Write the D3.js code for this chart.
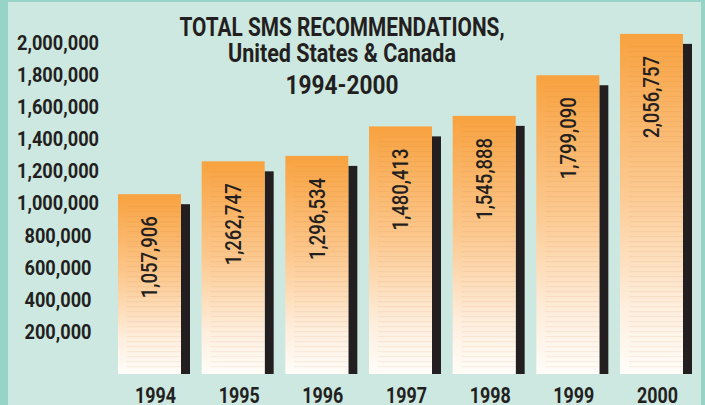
<!DOCTYPE html>
<html>
<head>
<meta charset="utf-8">
<script src="https://cdn.jsdelivr.net/npm/d3@7"></script>
<style>
  html, body { margin: 0; padding: 0; background: #97d3c6; }
  svg { display: block; }
  text { font-family: Roboto, "DejaVu Sans Condensed", sans-serif; fill: #231f20; }
</style>
</head>
<body>
<div id="chart"></div>
<script>
// Chart data
const years = ['1994', '1995', '1996', '1997', '1998', '1999', '2000'];
const recommendations = [1057906, 1262747, 1296534, 1480413, 1545888, 1799090, 2056757];
const tickValues = [200000, 400000, 600000, 800000, 1000000, 1200000, 1400000, 1600000, 1800000, 2000000];
const titleLines = ['TOTAL SMS RECOMMENDATIONS,', 'United States & Canada', '1994-2000'];

const width = 705, height = 405;
const fmt = d3.format(',');

// squeeze a group of texts horizontally so the widest one fits `target` px
function condense(sel, target){
    let widest = d3.max(sel.nodes(), n => n.getComputedTextLength());
    let k = target / widest;
    sel.each(function(){
        let len = this.getComputedTextLength();
        d3.select(this).attr('textLength', len * k).attr('lengthAdjust', 'spacingAndGlyphs');
    });
}

const svg = d3.select('#chart').append('svg')
    .attr('width', width).attr('height', height);

// background panel
svg.append('rect').attr('width', width).attr('height', height).attr('fill', '#97d3c6');
svg.append('rect').attr('x', 8).attr('y', 2).attr('width', 693).attr('height', height)
    .attr('fill', '#cce8e1');

// scales
const x = d3.scaleBand().domain(years).range([118, 683]).paddingInner(0.247).paddingOuter(0);
const y = d3.scaleLinear().domain([0, 2000000]).range([364, 43]);
const base = y(0) + 10;   // bars sit a little below the zero line
const shadowW = 9;

// gradient + scanline pattern for the bars
const defs = svg.append('defs');
const grad = defs.append('linearGradient').attr('id', 'barGrad')
    .attr('x1', 0).attr('y1', 0).attr('x2', 0).attr('y2', 1);
grad.append('stop').attr('offset', '0%').attr('stop-color', '#f8a23f');
grad.append('stop').attr('offset', '45%').attr('stop-color', '#fcc88e');
grad.append('stop').attr('offset', '80%').attr('stop-color', '#feeedd');
grad.append('stop').attr('offset', '100%').attr('stop-color', '#fffdf9');

const pat = defs.append('pattern').attr('id', 'lines')
    .attr('patternUnits', 'userSpaceOnUse').attr('width', 8).attr('height', 5);
pat.append('rect').attr('y', 1).attr('width', 8).attr('height', 1.2)
    .attr('fill', '#b8733a').attr('opacity', 0.09);

const bars = svg.append('g').selectAll('g.bar')
    .data(years.map((d, i) => [d, recommendations[i]]))
    .join('g').classed('bar', true);

// drop shadow
bars.append('rect')
    .attr('x', d => x(d[0]) + x.bandwidth())
    .attr('y', d => y(d[1]) + 10)
    .attr('width', shadowW)
    .attr('height', d => base - y(d[1]) - 10)
    .attr('fill', '#231f20');

bars.append('rect')
    .attr('x', d => x(d[0]))
    .attr('y', d => y(d[1]))
    .attr('width', x.bandwidth())
    .attr('height', d => base - y(d[1]))
    .attr('fill', 'url(#barGrad)');

bars.append('rect')
    .attr('x', d => x(d[0]) + 9)
    .attr('y', d => y(d[1]) + 10)
    .attr('width', x.bandwidth() - 9)
    .attr('height', d => base - y(d[1]) - 14)
    .attr('fill', 'url(#lines)');

// value labels, rotated
const valueLabels = bars.append('text')
    .attr('transform', d => `translate(${x(d[0]) + x.bandwidth() / 2},${y(d[1]) + 22}) rotate(-90)`)
    .attr('text-anchor', 'end')
    .attr('dy', '0.36em')
    .attr('font-size', 22)
    .attr('font-weight', 500)
    .text(d => fmt(d[1]));
condense(valueLabels, 82);

// y axis labels only
const yAxis = svg.append('g').attr('transform', 'translate(58,0)')
    .call(d3.axisLeft(y).tickValues(tickValues).tickSize(0).tickPadding(0).tickFormat(fmt));
yAxis.select('.domain').remove();
const tickText = yAxis.selectAll('text')
    .attr('text-anchor', 'middle')
    .attr('font-size', 20)
    .attr('font-family', null)
    .attr('font-weight', 'bold')
    .attr('fill', null);
condense(tickText, 82);

// x axis labels
const yearText = svg.append('g').selectAll('text.year')
    .data(years)
    .join('text').classed('year', true)
    .attr('x', d => x(d) + x.bandwidth() / 2 + 6)
    .attr('y', 403)
    .attr('text-anchor', 'middle')
    .attr('font-size', 22)
    .attr('font-weight', 'bold')
    .text(d => d);
condense(yearText, 41);

// title, each line fitted to its own width
const titleWidths = [325, 228, 113];
svg.append('g').selectAll('text.title')
    .data(titleLines)
    .join('text').classed('title', true)
    .attr('x', 342)
    .attr('y', (d, i) => [36, 62, 94][i])
    .attr('text-anchor', 'middle')
    .attr('font-size', 26)
    .attr('font-weight', 'bold')
    .text(d => d)
    .each(function(d, i){ condense(d3.select(this), titleWidths[i]); });
</script>
</body>
</html>
